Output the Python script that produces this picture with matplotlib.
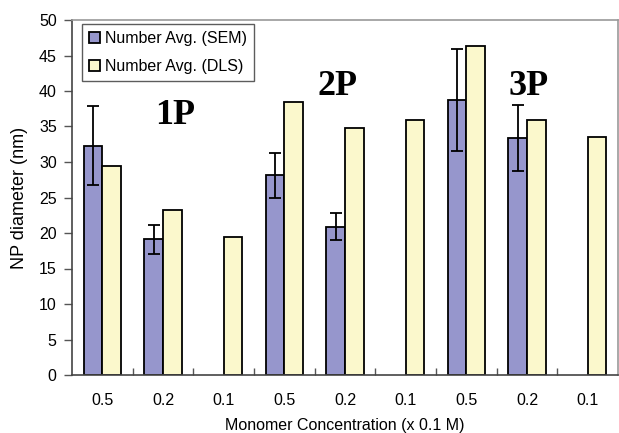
import numpy as np
import matplotlib.pyplot as plt

conc = ["0.5", "0.2", "0.1", "0.5", "0.2", "0.1", "0.5", "0.2", "0.1"]
sem = [32.3, 19.1, np.nan, 28.1, 20.9, np.nan, 38.7, 33.4, np.nan]
sem_err = [5.6, 2.0, 0, 3.1, 1.9, 0, 7.2, 4.6, 0]
dls = [29.5, 23.2, 19.5, 38.5, 34.8, 35.9, 46.3, 35.9, 33.5]
groups = ["1P", "2P", "3P"]

x = np.arange(len(conc))
w = 0.31

fig = plt.figure(figsize=(6.19, 4.33), dpi=100)
ax = fig.add_axes([72/619, 1-375/433, 546/619, 355/433])

ax.bar(x - w/2, sem, w, color="#9696cc", edgecolor="black", linewidth=1.3,
       yerr=sem_err, error_kw=dict(ecolor="black", elinewidth=1.3, capsize=4, capthick=1.3),
       label="Number Avg. (SEM)")
ax.bar(x + w/2, dls, w, color="#fbf8cc", edgecolor="black", linewidth=1.3,
       label="Number Avg. (DLS)")

for g, tx, ty in zip(groups, [1.2, 3.87, 7.03], [36.6, 40.6, 40.6]):
    ax.text(tx, ty, g, family="Liberation Serif", fontweight="bold", fontsize=26,
            ha="center", va="center")

ax.set_xlim(-0.5, len(conc) - 0.5)
ax.set_ylim(0, 50)
ax.set_yticks(np.arange(0, 51, 5))
ax.set_xticks(x)
ax.set_xticklabels(conc)
ax.set_xticks(np.arange(0.5, len(conc) - 0.5, 1), minor=True)
ax.tick_params(axis="x", which="major", length=0, pad=13, labelsize=11.5)
ax.tick_params(axis="x", which="minor", direction="in", length=5, width=1, color="#555555")
ax.tick_params(axis="y", direction="out", length=6, width=1, color="#555555", labelsize=11.5, pad=5)
for lab in ax.get_xticklabels() + ax.get_yticklabels():
    lab.set_family("Liberation Sans")

ax.spines["top"].set_color("#999999")
ax.spines["right"].set_color("#999999")
ax.spines["left"].set_color("#444444")
ax.spines["bottom"].set_color("#444444")
for s in ax.spines.values():
    s.set_linewidth(1.2)

ax.set_ylabel("NP diameter (nm)", family="Liberation Sans", fontsize=13, labelpad=8)
ax.set_xlabel("Monomer Concentration (x 0.1 M)", family="Liberation Sans", fontsize=11.5, labelpad=7)

leg = ax.legend(loc="upper left", bbox_to_anchor=(0.012, 0.997), fancybox=False,
                edgecolor="#333333", prop=dict(family="Liberation Sans", size=11.5),
                handlelength=0.7, handleheight=0.7, handletextpad=0.3, borderaxespad=0.2,
                labelspacing=0.8, borderpad=0.45)
leg.get_frame().set_linewidth(1.0)

fig.savefig("out.png", dpi=100)
